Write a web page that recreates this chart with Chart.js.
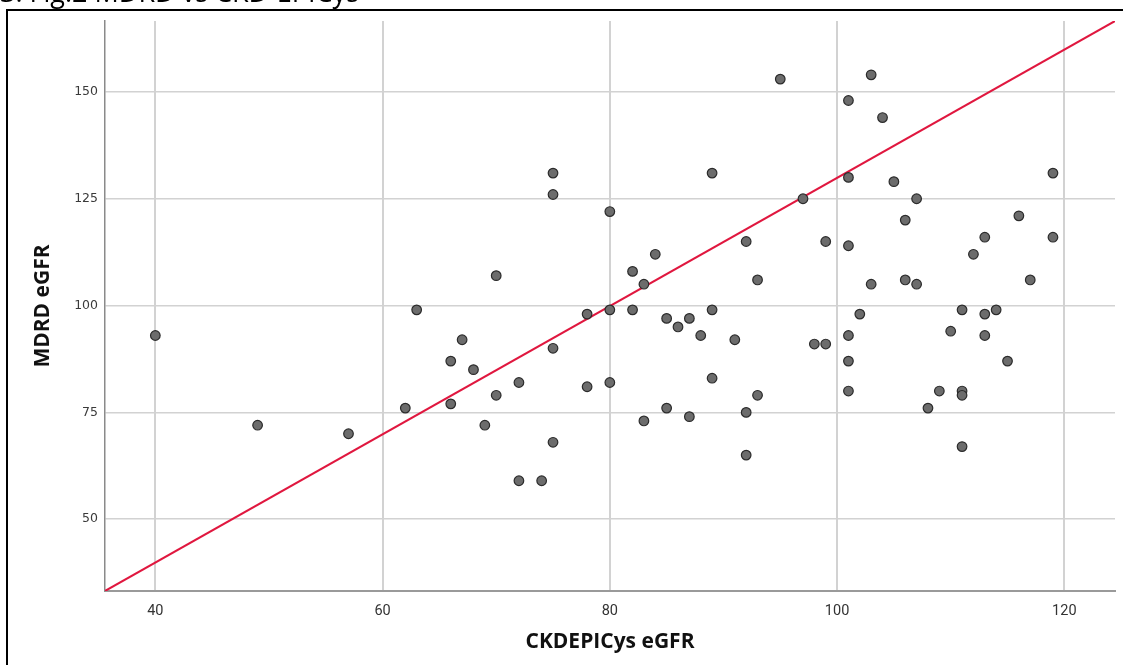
<!DOCTYPE html>
<html>
<head>
<meta charset="utf-8">
<script src="https://cdn.jsdelivr.net/npm/chart.js@4.4.1/dist/chart.umd.min.js"></script>
<style>
  html, body { margin: 0; padding: 0; background: #fff; }
  #wrap { width: 1123px; height: 665px; position: relative; }
</style>
</head>
<body>
<div id="wrap"><canvas id="c" width="1123" height="665"></canvas></div>
<script>
// ---- Data ----
const ckdEpiCys = [40, 49, 57, 62, 63, 66, 66, 67, 68, 69, 70, 70, 72, 72, 74, 75, 75, 75, 75, 78, 78,
  80, 80, 80, 82, 82, 83, 83, 84, 85, 85, 86, 87, 87, 88, 89, 89, 89, 91, 92, 92, 92, 93, 93,
  95, 97, 98, 99, 99, 101, 101, 101, 101, 101, 101, 102, 103, 103, 104, 105, 106, 106, 107, 107,
  108, 109, 110, 111, 111, 111, 111, 112, 113, 113, 113, 114, 115, 116, 117, 119, 119];
const mdrd = [93, 72, 70, 76, 99, 87, 77, 92, 85, 72, 107, 79, 82, 59, 59, 131, 126, 90, 68, 98, 81,
  122, 99, 82, 108, 99, 105, 73, 112, 97, 76, 95, 97, 74, 93, 131, 99, 83, 92, 115, 75, 65, 106, 79,
  153, 125, 91, 115, 91, 148, 130, 114, 93, 87, 80, 98, 154, 105, 144, 129, 120, 106, 125, 105,
  76, 80, 94, 99, 80, 79, 67, 112, 116, 98, 93, 99, 87, 121, 106, 131, 116];
const xRange = [35.57, 124.46];
const yRange = [33.2, 166.6];
const xTicks = [40, 60, 80, 100, 120];
const yTicks = [50, 75, 100, 125, 150];
const fitLineX = [35.57, 124.46];
const fitLineY = [33.2, 166.6];
const titleText = '3. Fig.2 MDRD vs CKD-EPICys';
const xTitle = 'CKDEPICys eGFR';
const yTitle = 'MDRD eGFR';

const points = ckdEpiCys.map((x, i) => ({ x: x, y: mdrd[i] }));
const linePts = fitLineX.map((x, i) => ({ x: x, y: fitLineY[i] }));

const framePlugin = {
  id: 'frame',
  beforeDraw(chart) {
    const ctx = chart.ctx;
    ctx.save();
    ctx.fillStyle = '#fff';
    ctx.fillRect(0, 0, chart.width, chart.height);
    ctx.strokeStyle = '#000';
    ctx.lineWidth = 2;
    ctx.strokeRect(7, 10, 1300, 800);
    ctx.fillStyle = '#000';
    ctx.font = '27px "Open Sans", sans-serif';
    ctx.textBaseline = 'alphabetic';
    ctx.fillText(titleText, 0, 2);
    ctx.restore();
  }
};

new Chart(document.getElementById('c'), {
  data: {
    datasets: [
      {
        type: 'scatter',
        data: points,
        order: 0,
        pointRadius: 4.8,
        pointHoverRadius: 4.8,
        backgroundColor: '#6c6c6c',
        borderColor: '#2b2b2b',
        borderWidth: 1.2
      },
      {
        type: 'line',
        data: linePts,
        order: 1,
        borderColor: '#e0173f',
        borderWidth: 2,
        pointRadius: 0,
        fill: false,
        tension: 0
      }
    ]
  },
  options: {
    responsive: false,
    animation: false,
    devicePixelRatio: 1,
    layout: { padding: { left: 0, top: 21, right: 8, bottom: 0 } },
    plugins: { legend: { display: false }, tooltip: { enabled: false } },
    scales: {
      x: {
        type: 'linear',
        min: xRange[0],
        max: xRange[1],
        afterBuildTicks: s => { s.ticks = xTicks.map(v => ({ value: v })); },
        afterFit: s => { s.height = 74; },
        grid: { color: '#d2d2d2', lineWidth: 2, drawTicks: false },
        border: { color: '#9a9a9a', width: 2 },
        ticks: {
          padding: 12,
          color: '#333',
          font: { family: '"Liberation Sans Narrow", "Roboto", sans-serif', size: 14.5 },
          maxRotation: 0
        },
        title: {
          display: true,
          text: xTitle,
          color: '#111',
          font: { family: '"Open Sans", sans-serif', size: 21, weight: 'bold' },
          padding: { top: 0, bottom: 10 }
        }
      },
      y: {
        type: 'linear',
        min: yRange[0],
        max: yRange[1],
        afterBuildTicks: s => { s.ticks = yTicks.map(v => ({ value: v })); },
        afterFit: s => { s.width = 105; },
        grid: { color: '#d2d2d2', lineWidth: 1.6, drawTicks: false },
        border: { color: '#8a8a8a', width: 1.5 },
        ticks: {
          padding: 7,
          color: '#3a3a3a',
          font: { family: '"DejaVu Sans", sans-serif', size: 12.5 }
        },
        title: {
          display: true,
          text: yTitle,
          color: '#111',
          font: { family: '"Open Sans", sans-serif', size: 21, weight: 'bold' },
          padding: { top: 30, bottom: 0 }
        }
      }
    }
  },
  plugins: [framePlugin]
});
</script>
</body>
</html>
